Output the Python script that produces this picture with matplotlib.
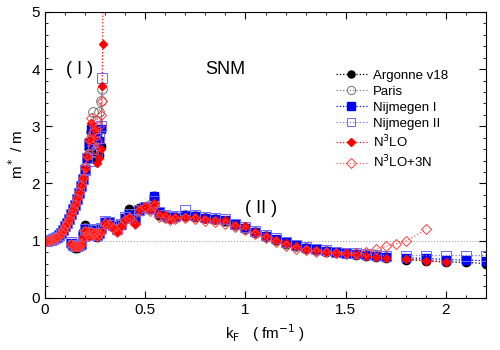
import numpy as np
import matplotlib
matplotlib.use("Agg")
import matplotlib.pyplot as plt
from matplotlib.ticker import MultipleLocator

plt.rcParams['font.family'] = ['Liberation Sans', 'DejaVu Sans']
nan = np.nan

# branch (I): low density solution
k_low = [0.00, 0.01, 0.02, 0.03, 0.04, 0.05, 0.06, 0.07, 0.08, 0.09,
         0.10, 0.11, 0.12, 0.13, 0.14, 0.15, 0.16, 0.17, 0.18, 0.19,
         0.20, 0.21, 0.22, 0.23, 0.24, 0.25, 0.26, 0.27, 0.28, 0.285,
         0.288, 0.29, 0.291]

av18_low = [1.00, 1.00, 1.01, 1.02, 1.03, 1.05, 1.07, 1.10, 1.14, 1.19,
            1.25, 1.31, 1.38, 1.46, 1.55, 1.63, 1.73, 1.83, 1.94, 2.06,
            2.22, 2.42, 2.62, 2.55, 2.75, 2.45, 2.80, 2.50, 2.65, nan,
            nan, nan, nan]
paris_low = [1.00, 1.00, 1.01, 1.02, 1.03, 1.05, 1.07, 1.10, 1.14, 1.19,
             1.25, 1.31, 1.38, 1.46, 1.55, 1.64, 1.74, 1.85, 1.97, 2.10,
             2.28, 2.48, 2.72, 2.90, 3.25, 2.85, 3.10, 3.25, 3.45, 3.65,
             nan, nan, nan]
nij1_low = [1.00, 1.00, 1.01, 1.02, 1.03, 1.05, 1.07, 1.10, 1.14, 1.19,
            1.25, 1.31, 1.38, 1.46, 1.55, 1.63, 1.73, 1.84, 1.96, 2.08,
            2.25, 2.45, 2.70, 2.95, 2.85, 2.70, 2.90, 2.75, 2.95, nan,
            nan, nan, nan]
nij2_low = [1.00, 1.00, 1.01, 1.02, 1.03, 1.05, 1.07, 1.10, 1.14, 1.19,
            1.25, 1.31, 1.38, 1.46, 1.55, 1.63, 1.73, 1.84, 1.96, 2.08,
            2.24, 2.44, 2.68, 2.40, 2.60, 2.90, 2.55, 2.80, 3.00, 3.85,
            nan, nan, nan]
n3lo_low = [1.00, 1.00, 1.01, 1.02, 1.03, 1.05, 1.07, 1.10, 1.14, 1.19,
            1.25, 1.31, 1.38, 1.46, 1.55, 1.63, 1.73, 1.84, 1.96, 2.09,
            2.26, 2.47, 2.75, 3.05, 2.80, 2.95, 2.35, 2.45, 2.60, 3.70,
            4.44, 6.50, 9.00]
n3lo3n_low = [1.00, 1.00, 1.01, 1.02, 1.03, 1.05, 1.07, 1.10, 1.14, 1.19,
              1.25, 1.31, 1.38, 1.46, 1.55, 1.64, 1.74, 1.85, 1.97, 2.10,
              2.28, 2.50, 2.78, 3.15, 2.90, 2.60, 2.75, 3.00, 3.20, 3.45,
              nan, nan, nan]

# branch (II): high density solution
k_high = [0.13, 0.14, 0.15, 0.16, 0.17, 0.18, 0.19, 0.20, 0.21, 0.22,
          0.23, 0.24, 0.25, 0.26, 0.27, 0.28, 0.30, 0.32, 0.34, 0.36,
          0.38, 0.40, 0.42, 0.45, 0.47, 0.50, 0.525, 0.545, 0.57, 0.60,
          0.625, 0.65, 0.70, 0.75, 0.80, 0.85, 0.90, 0.95, 1.00, 1.05,
          1.10, 1.15, 1.20, 1.25, 1.30, 1.35, 1.40, 1.45, 1.50, 1.55,
          1.60, 1.65, 1.70, 1.75, 1.80, 1.90, 2.00, 2.10, 2.20]

av18_high = [0.93, 0.89, 0.88, 0.88, 0.89, 0.92, 1.15, 1.28, 1.18, 1.10,
             1.12, 1.16, 1.08, 1.06, 1.10, 1.18, 1.30, 1.30, 1.24, 1.20,
             1.27, 1.38, 1.55, 1.38, 1.57, 1.58, 1.56, 1.78, 1.44, 1.42,
             1.39, 1.41, 1.43, 1.42, 1.39, 1.37, 1.34, 1.27, 1.21, 1.14,
             1.07, 1.01, 0.95, 0.90, 0.86, 0.83, 0.81, 0.79, 0.77, 0.75,
             0.73, 0.71, 0.69, nan, 0.67, 0.65, 0.63, 0.62, 0.60]
paris_high = [0.95, 0.92, 0.91, 0.90, 0.91, 0.94, 1.12, 1.22, 1.15, 1.12,
              1.14, 1.18, 1.12, 1.10, 1.13, 1.20, 1.32, 1.32, 1.26, 1.22,
              1.30, 1.40, 1.46, 1.36, 1.53, 1.58, 1.62, 1.62, 1.48, 1.44,
              1.40, 1.42, 1.44, 1.43, 1.40, 1.38, 1.35, 1.28, 1.22, 1.15,
              1.08, 1.02, 0.96, 0.91, 0.87, 0.84, 0.82, 0.80, 0.78, 0.77,
              0.75, 0.73, 0.72, nan, nan, nan, nan, nan, nan]
nij1_high = [0.96, 0.92, 0.90, 0.90, 0.91, 0.93, 1.10, 1.22, 1.15, 1.10,
             1.12, 1.18, 1.10, 1.08, 1.12, 1.20, 1.33, 1.32, 1.25, 1.18,
             1.28, 1.40, 1.45, 1.35, 1.52, 1.58, 1.55, 1.78, 1.50, 1.43,
             1.40, 1.42, 1.44, 1.43, 1.40, 1.38, 1.36, 1.29, 1.23, 1.16,
             1.09, 1.03, 0.97, 0.92, 0.88, 0.85, 0.82, 0.80, 0.78, 0.77,
             0.75, 0.73, 0.71, nan, 0.70, 0.69, 0.67, 0.66, 0.65]
nij2_high = [0.97, 0.93, 0.91, 0.91, 0.92, 0.95, 1.08, 1.20, 1.16, 1.12,
             1.14, 1.20, 1.12, 1.10, 1.14, 1.22, 1.34, 1.33, 1.27, 1.20,
             1.30, 1.41, 1.46, 1.37, 1.53, 1.59, 1.57, 1.70, 1.50, 1.44,
             1.41, 1.43, 1.53, 1.44, 1.41, 1.39, 1.37, 1.30, 1.24, 1.17,
             1.10, 1.04, 0.98, 0.93, 0.89, 0.86, 0.83, 0.81, 0.79, 0.78,
             0.76, 0.75, 0.74, nan, 0.74, 0.74, 0.74, 0.74, 0.74]
n3lo_high = [0.94, 0.90, 0.89, 0.89, 0.90, 0.93, 1.05, 1.18, 1.12, 1.08,
             1.16, 1.10, 1.14, 1.06, 1.12, 1.16, 1.30, 1.28, 1.22, 1.16,
             1.26, 1.37, 1.42, 1.30, 1.55, 1.60, 1.56, 1.66, 1.46, 1.45,
             1.38, 1.41, 1.42, 1.41, 1.38, 1.36, 1.36, 1.28, 1.25, 1.16,
             1.09, 1.02, 0.96, 0.90, 0.86, 0.83, 0.80, 0.79, 0.77, 0.75,
             0.73, 0.71, 0.69, nan, 0.68, 0.65, 0.62, nan, nan]
n3lo3n_high = [0.95, 0.91, 0.90, 0.90, 0.91, 0.94, 1.06, 1.17, 1.12, 1.08,
               1.15, 1.12, 1.13, 1.08, 1.12, 1.18, 1.31, 1.29, 1.22, 1.15,
               1.25, 1.36, 1.40, 1.30, 1.52, 1.58, 1.52, 1.60, 1.42, 1.40,
               1.36, 1.38, 1.40, 1.38, 1.35, 1.32, 1.30, 1.24, 1.19, 1.12,
               1.04, 0.97, 0.90, 0.86, 0.83, 0.81, 0.80, 0.79, 0.78, 0.78,
               0.81, 0.85, 0.90, 0.94, 0.99, 1.20, nan, nan, nan]

labels = ["Argonne v18", "Paris", "Nijmegen I", "Nijmegen II",
          r"N$^3$LO", r"N$^3$LO+3N"]
lows = [av18_low, paris_low, nij1_low, nij2_low, n3lo_low, n3lo3n_low]
highs = [av18_high, paris_high, nij1_high, nij2_high, n3lo_high, n3lo3n_high]

styles = [
    dict(color="black", marker="o", mfc="black", mec="black", ms=6),
    dict(color="#808080", marker="o", mfc="none", mec="#707070", ms=7, mew=0.7),
    dict(color="#0000ff", marker="s", mfc="#0000ff", mec="#0000ff", ms=6),
    dict(color="#7878ff", marker="s", mfc="none", mec="#6a6aff", ms=7, mew=0.7),
    dict(color="#ff0000", marker="D", mfc="#ff0000", mec="#ff0000", ms=4.5),
    dict(color="#ff6060", marker="D", mfc="none", mec="#ff4040", ms=5.5, mew=0.7),
]

fig = plt.figure(figsize=(5, 3.5), dpi=100)
ax = fig.add_axes([0.09, 0.149, 0.882, 0.817])

ax.axhline(1.0, color="#a0a0a0", ls=":", lw=0.8, zorder=0)

for lab, lo, hi, st in zip(labels, lows, highs, styles):
    ax.plot(k_low, lo, ls=":", lw=0.9, label=lab, **st)
    ax.plot(k_high, hi, ls=":", lw=0.9, **st)

ax.set_xlim(0, 2.2)
ax.set_ylim(0, 5)
ax.xaxis.set_minor_locator(MultipleLocator(0.1))
ax.yaxis.set_major_locator(MultipleLocator(1))
ax.yaxis.set_minor_locator(MultipleLocator(0.2))
ax.set_xticks([0, 0.5, 1, 1.5, 2])
ax.set_xticklabels(["0", "0.5", "1", "1.5", "2"])
ax.tick_params(which="both", direction="in", top=True, right=True, labelsize=11)
ax.tick_params(which="major", length=5)
ax.tick_params(which="minor", length=2.5)

ax.set_xlabel(r"k$_\mathrm{F}$   ( fm$^{-1}$ )", fontsize=11)
ax.set_ylabel(r"m$^*$ / m", fontsize=11)

ax.text(0.17, 4.0, "( I )", fontsize=13, ha="center", va="center")
ax.text(0.90, 4.0, "SNM", fontsize=13, ha="center", va="center")
ax.text(1.08, 1.57, "( II )", fontsize=13, ha="center", va="center")

ax.legend(loc="upper right", bbox_to_anchor=(0.94, 0.84), frameon=False,
          fontsize=9.5, labelspacing=0.28, handlelength=2.4, handletextpad=0.4,
          markerscale=0.85)

fig.savefig("out.png", dpi=100)
